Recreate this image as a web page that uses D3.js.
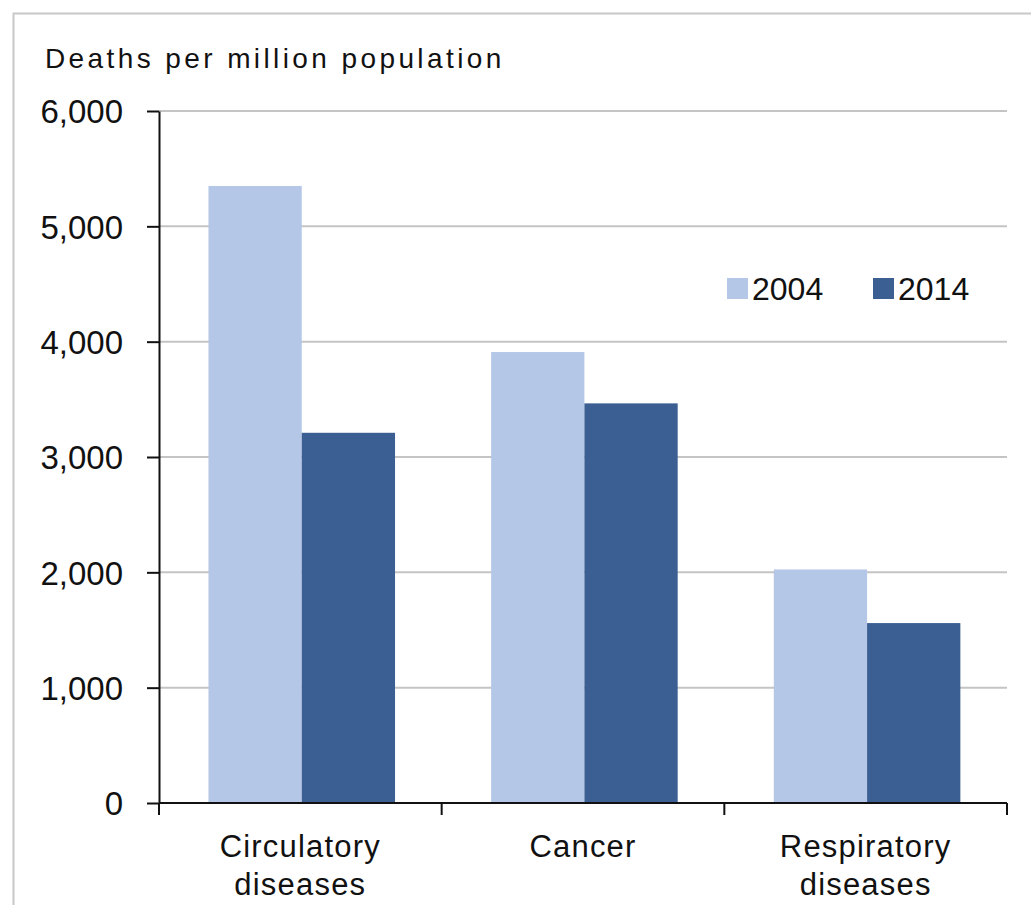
<!DOCTYPE html>
<html>
<head>
<meta charset="utf-8">
<script src="https://cdn.jsdelivr.net/npm/d3@7"></script>
<style>
  body { margin: 0; background: #fff; }
  svg { display: block; font-family: "Liberation Sans", Arial, sans-serif; }
</style>
</head>
<body>
<div id="chart"></div>
<script>
const categories = [["Circulatory", "diseases"], ["Cancer"], ["Respiratory", "diseases"]];
const seriesNames = ["2004", "2014"];
const values2004 = [5350, 3910, 2025];
const values2014 = [3210, 3465, 1560];
const yTicks = [0, 1000, 2000, 3000, 4000, 5000, 6000];
const colors = ["#b4c7e7", "#3b5f92"];

const width = 1031, height = 905;
const margin = { left: 159, right: 24, top: 111, bottom: 102 };

const svg = d3.select("#chart").append("svg")
    .attr("width", width)
    .attr("height", height);

// outer frame (only top and left edges are visible in the crop)
svg.append("rect")
    .attr("x", 13.5).attr("y", 13.5)
    .attr("width", width + 20).attr("height", height + 20)
    .attr("fill", "none")
    .attr("stroke", "#c8c8c8")
    .attr("stroke-width", 2);

const x0 = d3.scaleBand()
    .domain(d3.range(categories.length))
    .range([margin.left, width - margin.right])
    .padding(0);

const x1 = d3.scaleBand()
    .domain(seriesNames)
    .range([x0.bandwidth() * 0.175, x0.bandwidth() * 0.835]);

const y = d3.scaleLinear()
    .domain([0, 6000])
    .range([height - margin.bottom, margin.top]);

// gridlines
svg.append("g")
    .selectAll("line")
    .data(yTicks.filter(d => d > 0))
    .join("line")
    .attr("x1", margin.left)
    .attr("x2", width - margin.right)
    .attr("y1", d => y(d))
    .attr("y2", d => y(d))
    .attr("stroke", "#c4c4c4")
    .attr("stroke-width", 2);

// bars
const rows = categories.map((c, i) => ({ i, vals: [values2004[i], values2014[i]] }));
const groups = svg.append("g")
    .selectAll("g")
    .data(rows)
    .join("g")
    .attr("transform", d => `translate(${x0(d.i)},0)`);

groups.selectAll("rect")
    .data(d => d.vals.map((v, k) => ({ key: seriesNames[k], v, k })))
    .join("rect")
    .attr("x", d => x1(d.key))
    .attr("width", x1.bandwidth())
    .attr("y", d => y(d.v))
    .attr("height", d => y(0) - y(d.v))
    .attr("fill", d => colors[d.k]);

// y axis
const yAxis = svg.append("g")
    .attr("transform", `translate(${margin.left},0)`)
    .call(d3.axisLeft(y).tickValues(yTicks).tickSize(12).tickPadding(24)
        .tickFormat(d3.format(",")).tickSizeOuter(0));
yAxis.select(".domain").attr("stroke", "#111").attr("stroke-width", 2);
yAxis.selectAll(".tick line").attr("stroke", "#111").attr("stroke-width", 2);
yAxis.selectAll(".tick text")
    .attr("font-size", 33)
    .attr("fill", "#111")
    .attr("dy", "0.36em");

// x axis
const xAxisG = svg.append("g")
    .attr("transform", `translate(0,${y(0)})`);
xAxisG.append("line")
    .attr("x1", margin.left).attr("x2", width - margin.right)
    .attr("stroke", "#111").attr("stroke-width", 2);
const bounds = d3.range(categories.length + 1).map(i =>
    i < categories.length ? x0(i) : x0(i - 1) + x0.bandwidth());
xAxisG.selectAll(".xt")
    .data(bounds)
    .join("line")
    .attr("class", "xt")
    .attr("x1", d => d).attr("x2", d => d)
    .attr("y1", 0).attr("y2", 12)
    .attr("stroke", "#111").attr("stroke-width", 2);

const catLabels = xAxisG.selectAll(".cat")
    .data(categories)
    .join("text")
    .attr("class", "cat")
    .attr("text-anchor", "middle")
    .attr("font-size", 31)
    .attr("letter-spacing", 1.2)
    .attr("fill", "#111");
catLabels.selectAll("tspan")
    .data((d, i) => d.map(t => ({ t, i })))
    .join("tspan")
    .attr("x", d => x0(d.i) + x0.bandwidth() / 2)
    .attr("y", (d, j) => 54 + j * 38)
    .text(d => d.t);

// title
svg.append("text")
    .attr("x", 45)
    .attr("y", 68)
    .attr("font-size", 28)
    .attr("letter-spacing", 3.4)
    .attr("fill", "#111")
    .text("Deaths per million population");

// legend
const legendX = [727, 873];
const legend = svg.append("g")
    .selectAll("g")
    .data(seriesNames)
    .join("g")
    .attr("transform", (d, i) => `translate(${legendX[i]},278)`);
legend.append("rect")
    .attr("width", 21).attr("height", 21)
    .attr("fill", (d, i) => colors[i]);
legend.append("text")
    .attr("x", 25)
    .attr("y", 22)
    .attr("font-size", 32)
    .attr("fill", "#111")
    .text(d => d);
</script>
</body>
</html>
